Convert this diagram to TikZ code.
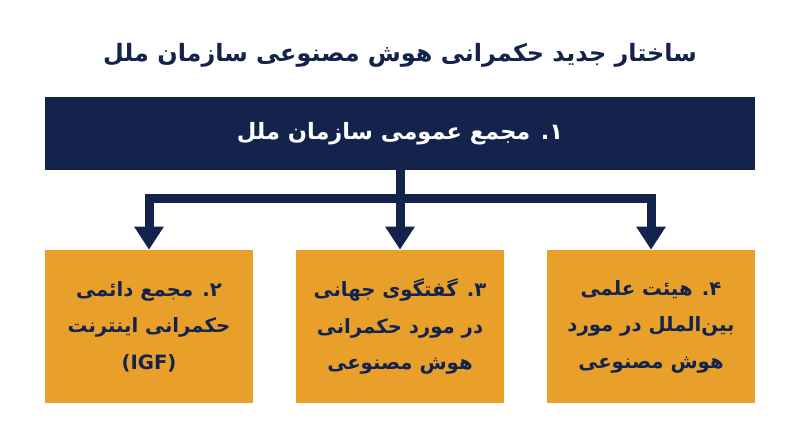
\documentclass[tikz,border=0pt]{standalone}
\usepackage{fontspec}
\usepackage{tikz}
\usepackage{xcolor}
\usetikzlibrary{arrows.meta}
\TeXXeTstate=1
\newfontfamily\fa[Script=Arabic]{DejaVu Sans}
\definecolor{navy}{HTML}{14234B}
\definecolor{amber}{HTML}{E8A02B}

\begin{document}
\begin{tikzpicture}
            \useasboundingbox (0,0) rectangle (20,-11.175);
            % Define styles
            \tikzstyle{titletext} = [text=navy, font=\fa\bfseries\fontsize{17}{20}\selectfont]
            \tikzstyle{head} = [rectangle, minimum width=17.75cm, minimum height=1.825cm, fill=navy, text=white, font=\fa\bfseries\fontsize{16}{20}\selectfont]
            \tikzstyle{body} = [rectangle, minimum width=5.2cm, minimum height=3.825cm, fill=amber, text=navy, align=center, font=\fa\bfseries\fontsize{14}{26}\selectfont]
            \tikzstyle{link} = [navy, line width=0.225cm]
            \tikzstyle{arrow} = [link, -{Triangle[width=0.7cm, length=0.575cm]}]

            % Title
            \node (title) [titletext] at (10,-1.375) {\beginR ساختار جدید حکمرانی هوش مصنوعی سازمان ملل\endR};

            % Top bar
            \node (assembly) [head] at (10,-3.3375) {\beginR ۱. مجمع عمومی سازمان ملل\endR};

            % Bottom row - right to left
            \node (igf) [body] at (3.725,-8.1625) {\beginR ۲. مجمع دائمی\endR\\ \beginR حکمرانی اینترنت\endR\\ (IGF)};
            \node (dialogue) [body] at (10,-8.1625) {\beginR ۳. گفتگوی جهانی\endR\\ \beginR در مورد حکمرانی\endR\\ \beginR هوش مصنوعی\endR};
            \node (panel) [body] at (16.275,-8.1625) {\beginR ۴. هیئت علمی\endR\\ \beginR بین‌الملل در مورد\endR\\ \beginR هوش مصنوعی\endR};

            % Arrows - down from the bar, then split
            \coordinate (fork) at (10,-4.9625);
            \draw [link] (assembly.south) -- (fork);
            \draw [arrow] (fork) -| (igf.north);
            \draw [arrow] (fork) -- (dialogue.north);
            \draw [arrow] (fork) -| (panel.north);
        \end{tikzpicture}
\end{document}
